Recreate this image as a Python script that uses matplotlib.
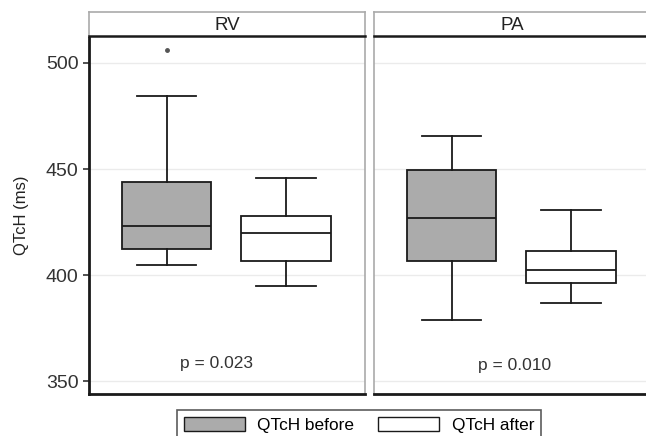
import matplotlib
matplotlib.use("Agg")
import matplotlib.pyplot as plt
from matplotlib.patches import Patch

plt.rcParams['font.family'] = ['Liberation Sans', 'DejaVu Sans']

panels = ["RV", "PA"]
groups = ["QTcH before", "QTcH after"]
# stats per panel: [whisker_low, q1, median, q3, whisker_high]
stats_RV = [[405, 412.5, 423, 444, 484.5], [395, 406.5, 420, 428, 446]]
stats_PA = [[379, 406.5, 427, 449.5, 465.5], [387, 396.5, 402.5, 411.5, 430.5]]
outliers_RV = [[506], []]
outliers_PA = [[], []]
p_values = ["p = 0.023", "p = 0.010"]
p_xpos = [1.42, 1.53]
p_ypos = [358.5, 357.5]
yticks = [350, 400, 450, 500]
fills = ["#ababab", "#ffffff"]

W, H = 646, 436
fig = plt.figure(figsize=(W / 100, H / 100), dpi=100)

def fx(px):
    return px / W

def fy(py):
    return 1 - py / H

panel_left = [89, 374]
panel_w = 276
top, bottom, strip_top = 36, 394, 12

all_stats = [stats_RV, stats_PA]
all_out = [outliers_RV, outliers_PA]

for i, name in enumerate(panels):
    ax = fig.add_axes([fx(panel_left[i]), fy(bottom), panel_w / W, (bottom - top) / H])
    for j in range(2):
        lo, q1, med, q3, hi = all_stats[i][j]
        bxp = {'whislo': lo, 'q1': q1, 'med': med, 'q3': q3, 'whishi': hi,
               'fliers': all_out[i][j], 'label': groups[j]}
        ax.bxp([bxp], positions=[j + 1], widths=0.75, patch_artist=True,
               showfliers=True,
               boxprops=dict(facecolor=fills[j], edgecolor='#1a1a1a', linewidth=1.3),
               medianprops=dict(color='#1a1a1a', linewidth=1.3),
               whiskerprops=dict(color='#1a1a1a', linewidth=1.3),
               capprops=dict(color='#1a1a1a', linewidth=1.3),
               capwidths=0.5,
               flierprops=dict(marker='o', markersize=2.5, markerfacecolor='#555555',
                               markeredgecolor='#555555'))
    ax.set_xlim(0.353, 2.657)
    ax.set_ylim(344, 512.7)
    ax.set_yticks(yticks)
    ax.set_xticks([])
    ax.grid(axis='y', color='#ebebeb', linewidth=1.0)
    ax.set_axisbelow(True)
    ax.text(p_xpos[i], p_ypos[i], p_values[i], ha='center', va='center',
            fontsize=12.5, color='#333333')
    for s in ['top', 'right']:
        ax.spines[s].set_color('#aaaaaa')
        ax.spines[s].set_linewidth(1.2)
    ax.spines['bottom'].set_color('#1a1a1a')
    ax.spines['bottom'].set_linewidth(2.0)
    if i == 0:
        ax.spines['left'].set_color('#1a1a1a')
        ax.spines['left'].set_linewidth(2.0)
        ax.tick_params(axis='y', labelsize=14, colors='#333333', length=4, width=1.2)
        ax.set_ylabel("QTcH (ms)", fontsize=12, color='#222222', labelpad=12)
    else:
        ax.spines['left'].set_color('#aaaaaa')
        ax.spines['left'].set_linewidth(1.2)
        ax.tick_params(axis='y', left=False, labelleft=False)
    # strip
    sax = fig.add_axes([fx(panel_left[i]), fy(top), panel_w / W, (top - strip_top) / H])
    sax.set_xticks([])
    sax.set_yticks([])
    for s in ['top', 'left', 'right']:
        sax.spines[s].set_color('#aaaaaa')
        sax.spines[s].set_linewidth(1.2)
    sax.spines['bottom'].set_color('#1a1a1a')
    sax.spines['bottom'].set_linewidth(1.8)
    sax.text(0.5, 0.45, name, ha='center', va='center', fontsize=13.5, color='#222222',
             transform=sax.transAxes)

handles = [Patch(facecolor=fills[k], edgecolor='#1a1a1a', linewidth=1.0) for k in range(2)]
leg = fig.legend(handles, groups, loc='upper center', bbox_to_anchor=(fx(359), fy(410)),
                 ncol=2, fontsize=12.4, frameon=True, fancybox=False,
                 handlelength=3.55, handleheight=0.85, columnspacing=1.4,
                 handletextpad=0.7, borderpad=0.4, borderaxespad=0)
leg.get_frame().set_edgecolor('#333333')
leg.get_frame().set_linewidth(1.2)

fig.savefig("out.png", dpi=100)
